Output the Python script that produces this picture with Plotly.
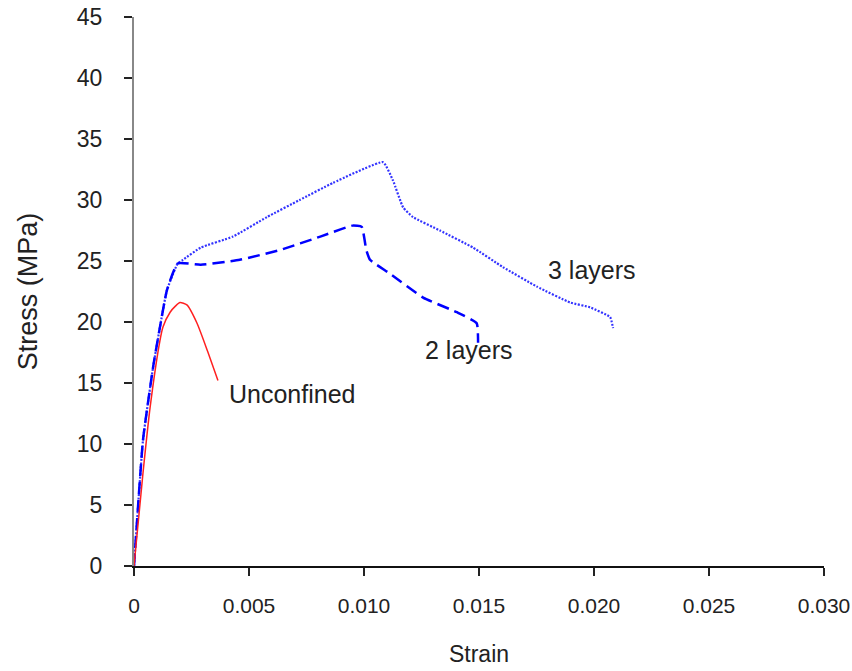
import plotly.graph_objects as go

# Unconfined
unc_x = [0, 0.00039, 0.0007, 0.00113, 0.00126, 0.00157, 0.0018, 0.0020, 0.0023, 0.00274, 0.0032, 0.00365]
unc_y = [0, 7.6, 13.0, 18.5, 19.6, 20.8, 21.3, 21.6, 21.4, 19.9, 17.6, 15.2]

# 2 layers
l2_x = [0, 0.00039, 0.00083, 0.00113, 0.00143, 0.0019, 0.0029, 0.0046, 0.00635, 0.0081, 0.0095, 0.0099,
        0.0101, 0.01026, 0.0111, 0.01257, 0.01404, 0.0149, 0.01496]
l2_y = [0, 10.3, 16.3, 19.6, 22.6, 24.8, 24.7, 25.1, 25.9, 27.0, 27.9, 27.8,
        25.9, 25.1, 24.0, 22.0, 20.8, 19.9, 18.3]

# 3 layers
l3_x = [0, 0.00039, 0.00083, 0.00113, 0.00143, 0.0019, 0.00213, 0.0029, 0.0043, 0.00578, 0.0072, 0.00865,
        0.01083, 0.01126, 0.0117, 0.01213, 0.0133, 0.01474, 0.01604, 0.01752, 0.01896, 0.01983, 0.0207, 0.02083]
l3_y = [0, 10.3, 16.3, 19.6, 22.6, 24.8, 25.1, 26.1, 27.0, 28.6, 30.0, 31.4,
        33.1, 31.6, 29.4, 28.6, 27.5, 26.1, 24.5, 22.9, 21.6, 21.2, 20.4, 19.5]

x_ticks = [0, 0.005, 0.010, 0.015, 0.020, 0.025, 0.030]
x_tick_labels = ["0", "0.005", "0.010", "0.015", "0.020", "0.025", "0.030"]
y_ticks = [0, 5, 10, 15, 20, 25, 30, 35, 40, 45]

labels = ["Unconfined", "2 layers", "3 layers"]
label_x = [0.00687, 0.01457, 0.0199]
label_y = [14.1, 17.7, 24.3]

fig = go.Figure()
fig.add_trace(go.Scatter(x=l3_x, y=l3_y, mode="lines", line_shape="spline",
                         line=dict(color="#3333ff", width=2.2, dash="2px,1.5px", smoothing=0.4), name="3 layers"))
fig.add_trace(go.Scatter(x=l2_x, y=l2_y, mode="lines", line_shape="spline",
                         line=dict(color="#0000ff", width=2.5, dash="12px,6px", smoothing=0.4), name="2 layers"))
fig.add_trace(go.Scatter(x=unc_x, y=unc_y, mode="lines", line_shape="spline",
                         line=dict(color="#ff2020", width=1.5, smoothing=0.6), name="Unconfined"))

for t, xx, yy in zip(labels, label_x, label_y):
    fig.add_annotation(x=xx, y=yy, text=t, showarrow=False,
                       font=dict(family="Liberation Sans, Arial", size=25, color="#222222"))

fig.update_layout(
    width=852, height=671,
    margin=dict(l=134, r=28, t=17, b=105, autoexpand=False),
    plot_bgcolor="white", paper_bgcolor="white",
    showlegend=False,
    font=dict(family="Liberation Sans, Arial", color="#222222"),
)
fig.update_xaxes(
    range=[0, 0.030], tickvals=x_ticks, ticktext=x_tick_labels, automargin=False,
    showgrid=False, zeroline=False, showline=True, linecolor="#111111", linewidth=1.5,
    ticks="outside", ticklen=8, tickcolor="#222222", tickwidth=1.5,
    tickfont=dict(size=21), ticklabelstandoff=12,
    title=dict(text="Strain", font=dict(size=23), standoff=30),
)
fig.update_yaxes(
    range=[0, 45], tickvals=y_ticks, automargin=False,
    showgrid=False, zeroline=False, showline=True, linecolor="#888888", linewidth=2,
    ticks="outside", ticklen=8, tickcolor="#222222", tickwidth=1.5,
    tickfont=dict(size=23), ticklabelstandoff=17,
    title=dict(text="Stress (MPa)", font=dict(size=27), standoff=31),
)

fig.write_html("out.html")
